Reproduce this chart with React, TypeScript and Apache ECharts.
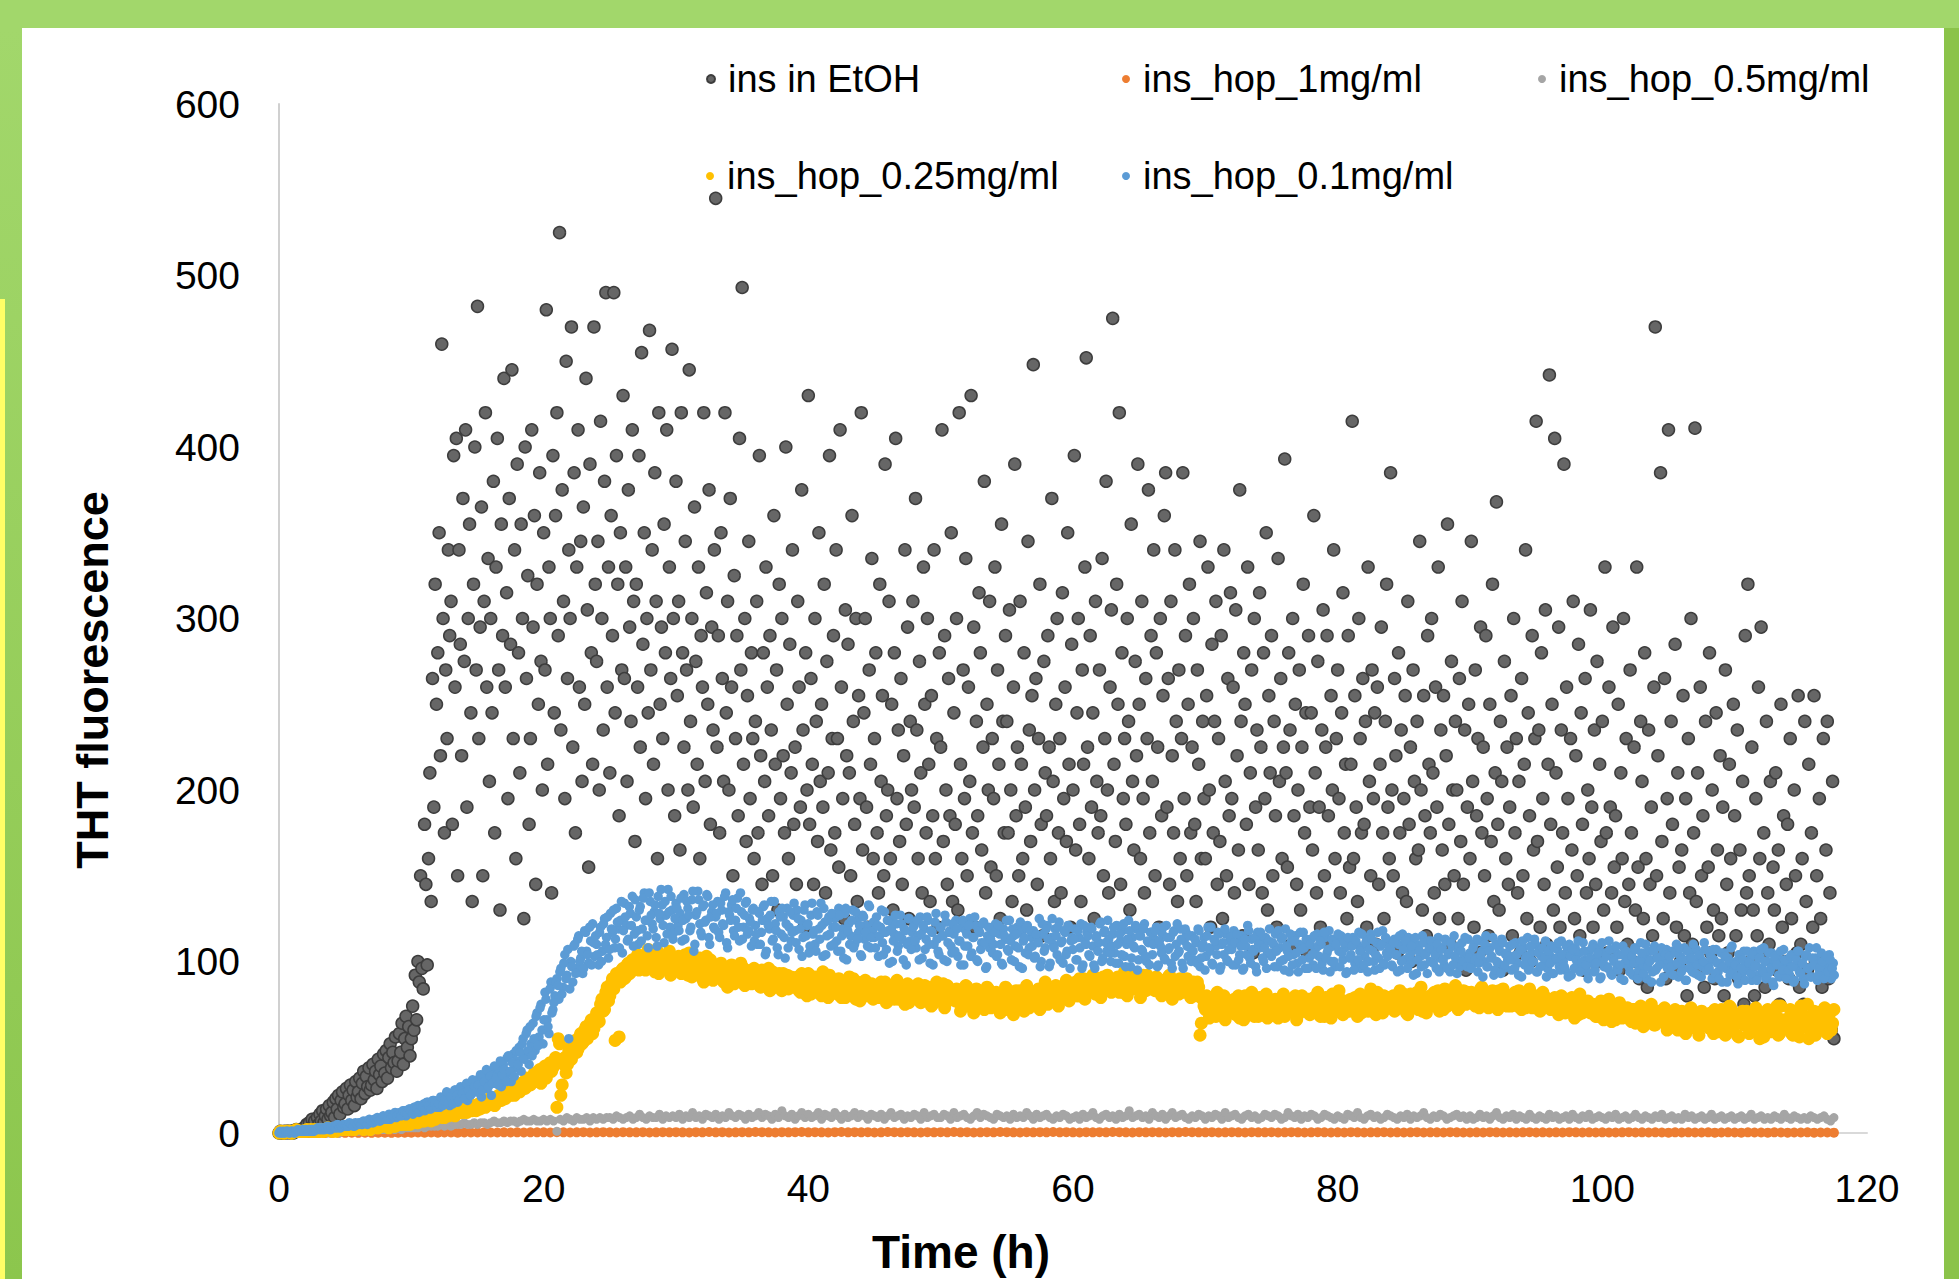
import React, { useEffect, useRef } from "react";
import * as echarts from "echarts";

// ---------- data (time grids in hours) ----------
const SERIES_NAMES = [
  "ins in EtOH",
  "ins_hop_1mg/ml",
  "ins_hop_0.5mg/ml",
  "ins_hop_0.25mg/ml",
  "ins_hop_0.1mg/ml",
];

const STEP_ETOH = 0.1;
const insEtOH = [
  0,1,0,0,1,0,1,1,0,1,
  1,0,1,2,1,1,2,1,2,3,
  2,5,1,6,3,8,4,7,2,9,
  5,11,7,13,6,10,14,8,16,10,
  12,18,9,20,14,22,11,19,24,15,
  17,26,14,22,28,19,25,16,30,21,
  24,32,20,29,36,23,33,27,38,25,
  28,40,31,36,26,43,34,39,30,46,
  35,48,32,44,52,38,47,41,56,36,
  42,58,47,64,40,55,68,50,62,45,
  55,74,60,92,66,100,88,150,96,84,
  180,145,98,160,210,135,265,190,320,250,
  280,350,220,460,300,175,270,230,340,290,
  310,180,395,260,405,150,340,285,220,370,
  275,410,190,300,355,245,135,320,400,270,
  482,230,295,365,150,310,420,260,335,205,
  300,245,380,175,330,405,270,130,355,290,
  440,260,315,195,370,285,445,230,340,160,
  390,280,210,355,300,125,400,265,325,180,
  230,410,295,360,145,320,250,385,275,200,
  350,270,480,215,330,300,140,395,245,360,
  420,290,525,235,375,310,195,450,265,340,
  300,470,225,385,175,330,410,260,345,205,
  365,250,440,305,155,390,280,215,470,320,
  275,345,200,415,300,235,380,490,260,330,
  210,360,290,490,245,395,320,185,350,270,
  430,265,330,205,375,295,240,410,310,170,
  320,260,395,225,455,285,350,195,300,245,
  468,270,340,215,385,310,160,420,250,295,
  230,355,280,410,200,330,265,457,300,185,
  380,255,310,165,420,280,225,345,270,200,
  445,240,300,190,365,275,215,330,160,290,
  260,420,205,315,250,375,180,295,235,340,
  545,225,290,175,350,265,205,420,245,310,
  200,370,260,150,325,230,290,185,405,270,
  493,215,300,170,255,345,195,280,230,160,
  240,310,175,395,220,145,280,205,330,260,
  185,290,235,150,360,215,270,130,320,195,
  300,220,175,400,250,160,285,210,340,180,
  225,145,310,260,190,375,235,120,280,200,
  430,180,265,215,145,300,240,170,350,205,
  250,190,320,140,275,210,395,165,230,290,
  175,340,230,155,410,260,195,125,305,220,
  285,210,150,360,240,180,300,135,255,195,
  420,165,245,300,190,120,270,215,335,160,
  230,280,175,140,320,205,255,150,390,185,
  200,310,160,250,130,280,405,195,235,170,
  265,145,220,340,180,295,125,240,200,310,
  190,370,235,160,275,210,140,330,250,175,
  300,215,135,255,185,340,160,230,120,280,
  225,410,170,290,200,145,265,185,350,135,
  245,180,300,130,420,215,160,270,195,335,
  150,260,205,430,175,295,120,240,185,315,
  280,165,225,380,140,250,200,310,155,230,
  195,330,150,270,215,125,355,240,175,290,
  240,175,305,200,135,260,390,185,225,150,
  310,215,160,280,190,130,345,235,170,255,
  448,200,265,145,230,320,180,115,275,210,
  185,290,225,160,370,205,135,250,300,175,
  230,140,315,195,260,170,350,215,120,285,
  200,395,165,245,300,180,135,270,215,330,
  452,225,160,290,190,245,125,310,205,175,
  270,185,335,150,230,380,200,140,260,305,
  475,215,170,320,250,420,145,280,195,230,
  180,300,240,130,355,205,165,275,220,390,
  250,160,310,195,140,265,230,375,175,290,
  205,340,150,280,225,120,300,185,255,360,
  385,190,265,145,310,220,175,340,240,135,
  270,160,230,385,195,290,150,250,320,175,
  225,300,180,135,270,215,345,160,240,195,
  160,255,330,200,120,285,175,240,310,145,
  230,170,290,125,340,205,150,265,185,315,
  195,260,140,305,220,165,375,240,115,280,
  250,180,330,145,210,270,105,300,190,235,
  165,315,225,140,280,195,350,130,255,210,
  290,150,240,185,120,335,205,265,160,225,
  393,210,155,280,235,110,300,185,250,145,
  200,270,130,225,320,175,245,105,290,190,
  245,165,360,210,140,275,190,120,235,305,
  150,225,290,185,110,255,200,340,160,230,
  270,195,140,245,315,175,215,125,290,155,
  215,415,160,255,190,135,300,230,175,265,
  180,240,120,330,205,150,270,195,245,110,
  260,145,215,295,175,125,240,320,190,160,
  385,200,150,265,220,105,280,175,235,140,
  195,255,135,310,180,225,100,270,205,160,
  240,165,345,200,130,255,185,115,290,215,
  175,300,210,140,260,190,330,125,235,165,
  255,145,220,355,180,110,275,200,150,240,
  200,125,265,170,310,145,235,95,190,250,
  160,345,205,120,270,185,230,105,295,175,
  225,150,290,195,115,250,170,320,135,210,
  368,180,130,240,205,95,275,160,225,145,
  190,255,115,300,175,230,140,205,105,265,
  150,215,340,125,245,185,100,290,165,230,
  415,170,235,120,280,195,145,305,110,215,
  442,180,250,130,405,210,155,295,120,235,
  175,390,140,260,195,105,230,165,310,125,
  220,150,285,115,245,180,95,265,140,200,
  160,305,190,120,235,145,275,100,215,170,
  240,130,330,175,105,260,190,140,295,155,
  185,120,250,95,210,160,300,135,230,110,
  145,270,175,100,225,130,330,155,90,240,
  205,125,280,160,85,235,145,190,115,260,
  470,150,220,105,385,170,125,265,90,195,
  410,140,240,180,95,285,120,210,155,100,
  165,255,115,195,80,230,140,300,110,175,
  411,135,210,95,260,150,185,85,240,120,
  155,280,105,200,130,90,245,165,115,220,
  125,190,80,270,145,105,215,160,95,250,
  185,115,235,90,165,130,205,75,290,140,
  320,150,100,225,130,80,195,115,260,160,
  295,105,175,85,240,140,110,205,70,155,
  130,210,95,165,75,250,120,185,100,145,
  180,90,230,125,70,200,150,105,255,85,
  110,160,75,240,135,95,215,65,175,120,
  255,100,150,70,195,125,85,230,60,165,
  240,90,140,60,205,55,
];

const STEP_1MG = 0.5;
const hop1mg = [
  0,0,0,0.1,0,0.1,0.1,0,0.1,0.1,0.1,0.2,0.1,0.2,0.1,0.2,0.2,0.1,0.2,0.2,
  0.2,0.3,0.2,0.3,0.2,0.3,0.3,0.2,0.3,0.3,0.3,0.4,0.3,0.3,0.4,0.3,0.4,0.3,0.4,0.4,
  0.4,0.3,0.5,0.4,0.3,0.4,0.5,0.3,0.4,0.5,0.4,0.3,0.5,0.4,0.4,0.5,0.3,0.4,0.5,0.4,
  0.5,0.4,0.3,0.5,0.4,0.6,0.4,0.5,0.3,0.4,0.5,0.4,0.6,0.5,0.4,0.3,0.5,0.4,0.5,0.6,
  0.4,0.5,0.4,0.3,0.5,0.6,0.4,0.5,0.4,0.5,0.3,0.4,0.6,0.5,0.4,0.5,0.4,0.3,0.5,0.4,
  0.5,0.4,0.6,0.4,0.5,0.3,0.4,0.5,0.4,0.6,0.5,0.4,0.3,0.5,0.4,0.5,0.4,0.6,0.4,0.5,
  0.4,0.3,0.5,0.4,0.5,0.4,0.6,0.5,0.4,0.3,0.5,0.4,0.5,0.4,0.3,0.5,0.4,0.6,0.5,0.4,
  0.4,0.5,0.3,0.4,0.5,0.4,0.3,0.5,0.4,0.4,0.5,0.3,0.4,0.5,0.4,0.3,0.4,0.5,0.4,0.3,
  0.4,0.3,0.5,0.4,0.3,0.4,0.4,0.5,0.3,0.4,0.3,0.4,0.5,0.3,0.4,0.4,0.3,0.5,0.4,0.3,
  0.3,0.4,0.3,0.5,0.4,0.3,0.4,0.3,0.4,0.5,0.3,0.4,0.3,0.4,0.3,0.5,0.4,0.3,0.4,0.3,
  0.4,0.3,0.3,0.4,0.5,0.3,0.4,0.3,0.4,0.3,0.2,0.4,0.3,0.4,0.3,0.3,0.4,0.2,0.3,0.4,
  0.3,0.2,0.4,0.3,0.3,0.2,0.4,0.3,0.2,0.3,0.3,0.4,0.2,0.3,0.3,0.2,
];

const STEP_05 = 0.25;
const hop05 = [
  0,0,0,0,0,0,0,0,0,1,0,0,1,0,1,0,1,1,0,1,
  1,1,1,1,1,2,1,2,1,2,2,2,2,2,3,2,3,2,3,3,
  3,3,3,4,3,4,4,4,4,5,4,5,4,5,5,5,6,5,5,6,
  5,6,6,5,6,7,6,6,7,6,7,7,6,7,8,7,7,8,7,7,
  8,7,8,7,1,8,7,9,8,7,9,8,8,9,7,9,8,9,8,9,
  9,8,10,9,8,9,10,8,9,11,9,8,10,9,9,11,8,10,9,10,
  9,11,8,10,9,12,9,10,8,11,10,9,11,8,10,9,12,10,9,11,
  10,8,11,9,10,12,9,11,10,8,11,9,13,10,9,11,8,10,12,9,
  11,9,10,12,8,11,10,9,12,10,8,11,9,10,12,9,11,10,8,11,
  10,9,11,8,10,12,9,10,11,8,10,9,11,10,8,12,9,10,11,9,
  9,11,10,8,12,9,10,11,9,8,10,12,9,11,10,9,8,11,10,9,
  10,8,11,9,10,9,12,10,8,11,9,10,11,9,8,10,9,11,10,8,
  9,10,8,11,9,10,12,9,8,10,11,9,10,8,11,9,10,13,9,10,
  11,9,10,8,12,10,9,11,8,10,12,9,10,11,9,8,10,9,11,10,
  8,10,9,11,10,8,12,9,10,11,9,8,10,11,9,10,8,9,11,10,
  9,11,10,8,9,12,10,9,11,8,10,9,11,10,8,9,11,10,9,8,
  10,9,8,11,10,9,12,9,8,10,11,9,10,8,9,11,10,9,8,10,
  9,11,8,10,9,10,12,9,8,10,9,11,10,8,9,10,11,9,10,8,
  10,8,9,11,9,10,8,10,12,9,8,10,9,11,8,10,9,8,11,9,
  8,10,9,8,11,9,10,8,9,10,8,11,9,8,10,9,11,8,9,10,
  9,8,10,9,11,8,9,10,8,9,11,9,8,10,9,8,10,9,11,8,
  9,10,8,9,8,11,9,10,8,9,10,8,9,11,8,9,10,8,9,10,
  8,9,10,8,9,11,8,9,10,8,9,8,10,9,8,11,9,8,10,9,
  8,9,8,10,9,8,9,10,8,7,9,
];

// 0.25 mg/ml: two interleaved reading grids (t = i*0.2 and t = 0.1 + i*0.2)
const STEP_025 = 0.2;
const hop025 = [
  0,1,0,1,1,0,1,1,1,1,1,1,2,1,1,
  1,2,1,2,2,1,2,2,2,3,2,2,3,2,3,
  3,3,2,3,4,3,4,3,4,4,5,4,4,5,4,
  5,5,6,5,6,6,7,6,7,8,7,8,8,9,8,
  9,10,9,11,10,11,12,11,13,12,14,12,15,13,14,
  16,14,17,15,19,17,20,18,22,19,24,21,23,26,22,
  27,24,29,26,31,28,33,30,35,29,38,32,40,36,42,
  15,52,28,44,40,50,46,54,49,58,53,62,57,66,61,
  70,65,78,72,85,80,90,54,92,88,96,91,99,94,97,
  100,95,103,97,105,99,102,94,106,98,101,96,104,92,100,
  97,103,93,100,95,105,91,99,96,102,90,98,94,101,89,
  96,92,99,88,95,93,98,87,94,91,97,86,93,90,95,
  89,94,85,91,88,96,84,90,87,93,83,89,92,86,90,
  85,91,82,88,86,93,81,87,84,90,80,88,85,92,83,
  87,81,89,84,79,86,83,90,78,85,82,88,80,84,87,
  82,86,79,84,88,77,83,81,87,78,85,80,84,76,82,
  85,79,83,77,86,80,82,75,84,78,81,87,76,83,79,
  80,84,76,82,78,85,74,81,79,83,75,80,77,84,73,
  79,82,75,80,77,84,74,81,78,76,83,79,75,82,77,
  81,76,84,78,80,86,77,83,79,85,78,82,87,80,84,
  83,88,80,85,90,82,87,84,91,81,86,89,83,92,85,
  88,84,91,86,82,89,93,85,87,90,83,88,86,92,84,
  87,83,90,85,88,82,91,84,86,89,81,87,85,90,83,
  86,82,88,57,78,72,76,70,79,68,75,73,80,69,77,
  71,78,74,67,76,80,70,75,73,79,68,76,72,81,74,
  77,70,75,73,79,68,74,77,71,80,69,76,74,72,78,
  73,79,70,76,74,68,77,72,81,71,75,78,69,76,73,
  78,72,76,80,70,75,73,79,71,77,82,74,70,76,79,
  75,80,72,77,74,81,70,78,76,73,82,75,71,79,77,
  80,74,78,83,76,72,79,81,75,77,84,73,78,76,82,
  77,81,74,79,84,76,80,73,82,78,75,83,77,80,74,
  79,76,82,74,80,77,73,81,78,75,79,72,77,80,74,
  76,73,79,71,77,75,70,78,74,72,76,69,75,73,71,
  74,70,72,68,75,71,67,73,69,72,66,70,74,68,71,
  69,65,72,67,70,64,71,68,66,69,63,70,67,65,68,
  66,70,63,68,65,71,62,67,64,69,61,66,68,63,67,
  64,70,58,67,62,72,60,66,74,61,69,57,65,71,63,
  68,59,65,73,61,69,56,64,71,60,67,74,58,66,62,
  63,72,57,66,60,74,62,68,55,65,71,59,67,61,73,
  58,70,64,
];
const OFFSET_025B = 0.1;
const hop025b = [
  1,0,1,1,0,1,2,1,1,1,2,1,1,2,1,
  2,1,2,3,2,2,1,3,2,3,2,3,3,2,3,
  4,3,3,4,2,4,5,3,4,5,4,3,5,4,5,
  6,5,7,6,5,7,8,6,8,7,9,8,7,9,9,
  10,11,9,12,11,13,10,12,14,12,15,13,14,16,13,
  17,15,18,16,20,18,16,21,19,23,20,25,22,24,27,
  25,29,27,32,28,30,35,31,37,33,39,35,41,38,44,
  55,22,40,35,48,43,51,47,56,52,60,55,64,58,67,
  68,75,71,82,77,87,84,93,56,95,90,98,93,101,96,
  104,98,101,95,107,100,97,104,93,99,103,97,106,95,101,
  95,101,97,104,92,98,102,94,100,96,88,103,93,99,97,
  93,98,90,96,85,94,97,89,92,99,88,95,91,87,96,
  92,86,95,88,90,83,94,87,91,85,93,88,84,91,87,
  88,83,93,86,80,89,85,91,82,87,94,84,79,89,86,
  84,90,79,86,82,91,80,85,88,77,83,89,81,86,78,
  85,79,88,81,76,86,83,78,89,80,84,75,87,82,79,
  81,87,76,83,79,85,74,82,88,77,80,73,86,78,83,
  77,83,71,80,86,74,79,70,84,76,81,72,85,75,80,
  74,81,70,78,85,72,76,69,83,75,79,71,86,73,78,
  76,83,72,80,88,75,82,78,86,74,84,79,89,77,85,
  86,80,90,83,78,88,85,92,81,87,79,91,84,89,82,
  85,90,82,87,94,80,88,84,91,86,79,92,83,89,86,
  84,91,86,80,89,83,92,78,87,85,90,82,88,84,79,
  88,80,85,64,74,80,67,77,72,82,70,78,66,75,71,
  76,69,80,72,66,78,74,82,68,75,79,71,77,67,73,
  72,78,67,75,81,70,76,73,79,66,74,80,71,77,69,
  76,71,82,68,74,79,72,67,78,75,83,70,73,77,71,
  74,79,68,81,73,76,71,84,75,69,78,72,80,74,77,
  79,71,76,83,73,78,69,81,74,80,72,85,77,70,76,
  75,82,77,71,79,84,74,80,76,86,72,78,83,75,79,
  82,76,79,73,85,78,81,75,83,77,72,80,84,76,78,
  74,81,77,83,72,79,76,84,73,78,80,71,82,75,77,
  72,78,74,69,80,73,76,71,79,67,75,81,70,74,77,
  70,75,68,73,77,66,72,78,65,74,69,76,67,71,73,
  66,72,64,69,74,62,70,67,75,63,68,71,65,73,60,
  69,64,72,60,67,70,58,66,73,62,68,57,71,65,63,
  61,68,72,59,65,70,57,64,73,62,67,56,69,63,71,
  58,66,70,62,55,68,64,72,59,63,69,57,74,61,66,
  67,58,64,71,56,69,62,75,60,65,57,70,63,68,59,
  66,60,72,
];

// 0.1 mg/ml: two interleaved reading grids (t = i*0.15 and t = 0.075 + i*0.15)
const STEP_01 = 0.15;
const hop01 = [
  0,0,1,0,1,0,1,1,0,1,1,1,2,1,1,2,1,2,2,2,
  2,2,3,2,3,3,2,3,4,3,4,3,4,4,5,4,5,5,4,5,
  5,6,5,6,7,6,7,6,8,7,8,7,9,8,9,10,8,10,11,9,
  10,12,11,13,10,12,14,12,15,13,16,14,13,17,15,18,14,17,19,16,
  18,15,20,17,22,19,16,23,20,25,18,22,26,21,24,19,28,23,26,30,
  24,32,21,28,35,26,31,22,36,29,38,33,27,40,31,44,35,30,46,38,
  42,50,36,55,45,60,40,52,64,48,70,56,75,52,82,66,58,88,72,80,
  90,78,96,85,104,92,55,100,88,110,96,115,102,93,118,106,99,112,122,103,
  110,98,120,106,125,114,102,128,117,108,131,119,124,105,134,121,113,128,138,116,
  126,110,132,119,140,124,108,135,122,129,114,138,125,133,111,127,142,120,130,117,
  134,121,128,112,139,125,131,118,136,106,127,141,122,115,133,124,138,110,129,120,
  126,135,114,130,121,140,108,127,133,118,124,137,112,129,120,134,116,125,109,131,
  121,110,128,117,132,104,125,119,135,113,122,108,129,116,126,102,131,120,112,127,
  118,130,107,124,114,133,121,105,127,116,110,129,119,134,103,123,115,126,109,120,
  125,112,131,106,119,128,101,122,115,130,110,124,117,104,127,113,121,133,108,118,
  114,126,103,120,111,129,107,118,124,100,116,122,109,127,113,119,98,125,112,117,
  121,108,115,126,102,119,113,124,99,117,110,128,106,120,115,101,123,111,118,105,
  116,124,103,112,120,98,118,109,125,105,114,121,100,117,111,123,96,115,108,119,
  110,122,104,116,99,119,113,107,124,101,115,109,120,97,117,112,105,121,108,114,
  118,103,113,125,100,116,108,121,97,114,110,119,104,123,111,99,117,106,120,112,
  107,119,101,114,122,98,112,117,104,120,109,96,115,111,123,102,118,106,113,100,
  116,105,121,99,112,118,103,110,124,97,114,108,119,101,115,106,122,100,111,117,
  104,113,120,98,109,116,102,121,107,114,96,118,110,105,119,99,112,117,103,108,
  115,101,111,119,97,108,114,103,120,106,99,113,109,117,95,110,104,116,100,112,
  107,118,98,111,104,115,96,109,121,102,113,106,97,117,108,112,100,114,105,119,
  103,110,116,97,108,113,101,119,106,94,112,104,115,99,110,107,117,96,111,102,
  113,98,107,116,103,110,95,114,105,118,100,109,97,112,106,115,101,108,94,111,
  104,114,99,110,117,96,108,103,113,100,116,106,95,111,102,109,118,98,105,112,
  107,97,113,104,110,95,116,101,108,114,99,106,111,93,109,103,115,98,105,112,
  100,110,106,96,114,102,108,98,112,104,94,109,115,101,107,97,111,103,99,113,
  105,98,110,102,94,112,106,100,115,97,108,103,92,110,99,106,113,96,104,101,
  109,95,103,111,99,106,91,108,102,114,97,105,100,110,94,107,103,98,112,96,
  104,109,93,101,107,97,112,100,95,106,110,92,103,108,98,105,96,111,101,94,
  106,99,110,95,103,108,91,100,105,97,112,93,102,107,96,104,90,109,99,101,
  97,105,92,108,100,95,111,98,103,90,106,101,94,109,96,102,88,104,99,107,
  100,93,106,98,110,91,103,96,108,89,101,105,94,99,107,92,102,97,111,95,
  98,104,90,101,107,94,99,88,105,96,102,92,109,97,100,87,104,93,106,99,
  95,101,89,106,98,92,103,96,108,90,100,94,105,86,99,102,91,97,107,93,
  100,92,104,88,97,106,94,99,90,103,96,108,91,98,102,89,95,105,93,101,
  97,104,90,99,
];
const OFFSET_01B = 0.075;
const hop01b = [
  1,0,0,1,1,0,1,0,1,2,1,1,1,2,1,2,2,1,2,3,
  3,2,2,3,4,2,3,4,3,5,3,4,5,4,4,6,5,4,6,5,
  6,5,7,6,5,8,7,6,8,9,7,8,10,9,8,11,9,10,12,10,
  11,10,13,12,11,14,13,11,15,14,12,16,15,13,18,16,14,19,17,15,
  17,21,16,19,24,18,21,17,25,22,19,27,23,20,29,25,22,31,27,24,
  28,34,25,30,37,27,33,29,39,32,28,42,34,37,30,45,36,41,33,48,
  40,47,52,43,58,48,62,45,55,68,51,73,60,66,78,62,84,70,76,88,
  86,94,81,99,90,107,84,97,109,93,113,100,106,96,117,104,120,98,111,115,
  104,117,100,122,110,126,107,119,130,113,123,108,135,118,126,112,132,121,109,136,
  118,130,112,137,124,115,140,127,119,133,109,128,142,121,135,116,129,138,113,125,
  131,118,137,124,113,135,127,120,141,110,129,136,117,132,123,139,114,126,133,119,
  128,117,134,122,138,111,129,124,136,115,131,120,140,113,127,135,118,123,130,112,
  116,129,110,124,133,106,121,127,112,135,118,104,126,131,114,122,108,129,117,134,
  111,125,119,103,130,115,122,109,134,118,106,127,113,121,131,104,124,116,128,110,
  120,106,127,115,102,131,118,110,124,108,129,113,121,103,126,117,109,132,114,123,
  108,121,115,130,104,117,124,99,119,112,127,106,115,122,101,118,110,125,107,120,
  112,124,101,116,121,107,126,110,118,98,123,113,104,120,115,127,100,117,109,122,
  106,119,112,98,124,109,116,121,103,114,126,101,118,107,122,111,97,120,113,105,
  117,103,121,110,98,115,124,106,112,119,100,116,108,123,96,114,120,104,118,109,
  102,116,111,97,122,106,119,113,99,125,108,115,120,101,112,118,104,121,96,114,
  113,101,118,108,96,121,110,115,103,119,98,114,106,122,100,117,111,124,105,109,
  120,99,110,116,104,122,97,113,118,102,109,121,95,115,107,119,103,112,98,117,
  110,118,97,112,105,120,101,114,108,99,117,103,122,106,113,96,119,109,115,100,
  106,113,99,118,102,110,95,115,108,120,98,112,104,116,97,111,119,101,107,114,
  98,111,116,101,109,95,113,104,118,99,107,114,94,110,117,102,108,96,112,105,
  111,97,106,118,100,114,95,109,103,116,98,112,105,94,117,101,108,113,96,110,
  104,115,96,109,112,99,117,102,107,94,113,100,110,116,97,105,111,93,114,102,
  109,95,112,101,106,116,98,111,94,107,113,100,104,117,96,110,99,114,103,108,
  98,111,104,94,115,100,107,112,96,103,109,92,114,101,106,97,111,104,93,108,
  112,99,104,110,94,107,101,113,96,105,111,98,103,93,109,106,100,114,97,102,
  96,108,101,113,99,104,91,110,97,106,102,114,95,100,108,93,111,98,105,103,
  101,110,96,104,92,107,112,98,103,95,109,100,113,94,105,97,108,102,91,106,
  99,93,108,102,111,95,104,97,109,91,103,107,96,101,112,94,100,106,98,90,
  102,108,94,99,105,90,111,97,103,96,107,92,100,109,95,98,104,89,106,101,
  94,103,99,107,90,101,105,93,110,97,100,88,106,95,102,98,108,91,104,96,
  103,97,92,105,99,108,94,101,89,106,96,102,110,93,98,104,91,100,107,95,
  96,102,107,93,99,90,105,97,103,88,100,108,94,98,91,104,96,101,89,106,
  99,93,104,97,89,102,107,94,100,91,105,96,88,103,98,92,106,95,101,90,
  95,103,97,89,101,106,93,99,87,104,96,91,102,98,108,92,97,100,90,103,
  94,101,96,92,
];

// ---------- axes ----------
const X_MIN = 0, X_MAX = 120, X_INTERVAL = 20;
const Y_MIN = 0, Y_MAX = 600, Y_INTERVAL = 100;
const X_TITLE = "Time (h)";
const Y_TITLE = "THT fluorescence";

const FONT = "'Liberation Sans', Arial, sans-serif";

function toPairs(values: number[], step: number, offset = 0) {
  return values.map((v, i) => [Math.round((offset + i * step) * 1000) / 1000, v]);
}

export default function App() {
  const ref = useRef<HTMLDivElement>(null);

  useEffect(() => {
    if (!ref.current) return;
    const chart = echarts.init(ref.current, undefined, { renderer: "svg" });

    const colors = ["#666666", "#ED7D31", "#A5A5A5", "#FFC000", "#5B9BD5"];
    const sizes = [12, 10, 9, 13, 9.5];
    const datasets = [
      toPairs(insEtOH, STEP_ETOH),
      toPairs(hop1mg, STEP_1MG),
      toPairs(hop05, STEP_05),
      toPairs(hop025, STEP_025).concat(toPairs(hop025b, STEP_025, OFFSET_025B)),
      toPairs(hop01, STEP_01).concat(toPairs(hop01b, STEP_01, OFFSET_01B)),
    ];

    const legendPos = [
      { left: 701, top: 55 },
      { left: 1117, top: 55 },
      { left: 1533, top: 55 },
      { left: 701, top: 152 },
      { left: 1117, top: 152 },
    ];

    const option: any = {
      animation: false,
      backgroundColor: "#ffffff",
      grid: { left: 279, right: 92, top: 104, bottom: 146, containLabel: false },
      legend: SERIES_NAMES.map((n, i) => ({
        data: [n],
        left: legendPos[i].left,
        top: legendPos[i].top,
        icon: "circle",
        itemWidth: 8,
        itemHeight: 8,
        selectedMode: false,
        textStyle: {
          fontFamily: FONT,
          fontSize: 38,
          color: "#000",
          padding: [0, 0, 0, 8],
        },
      })),
      xAxis: {
        type: "value",
        min: X_MIN,
        max: X_MAX,
        interval: X_INTERVAL,
        axisLine: { show: true, onZero: false, lineStyle: { color: "#d9d9d9", width: 2 } },
        axisTick: { show: false },
        splitLine: { show: false },
        axisLabel: { fontFamily: FONT, fontSize: 39, color: "#000", margin: 36 },
      },
      yAxis: {
        type: "value",
        min: Y_MIN,
        max: Y_MAX,
        interval: Y_INTERVAL,
        axisLine: { show: true, lineStyle: { color: "#d0d0d0", width: 2 } },
        axisTick: { show: false },
        splitLine: { show: false },
        axisLabel: { fontFamily: FONT, fontSize: 39, color: "#000", margin: 39 },
      },
      series: SERIES_NAMES.map((n, i) => ({
        name: n,
        type: "scatter",
        data: datasets[i],
        symbol: "circle",
        symbolSize: sizes[i],
        clip: false,
        itemStyle:
          i === 0
            ? { color: colors[i], borderColor: "#3d3d3d", borderWidth: 1.5, opacity: 1 }
            : { color: colors[i], opacity: 1 },
        emphasis: { disabled: true },
      })),
      graphic: [
        { type: "rect", shape: { x: 0, y: 0, width: 1959, height: 28 }, style: { fill: "#a2d76b" }, silent: true },
        {
          type: "rect",
          shape: { x: 0, y: 28, width: 22, height: 1251 },
          style: {
            fill: new echarts.graphic.LinearGradient(0, 0, 0, 1, [
              { offset: 0, color: "#a2d76b" },
              { offset: 1, color: "#8cc64d" },
            ]),
          },
          silent: true,
        },
        { type: "rect", shape: { x: 0, y: 299, width: 5, height: 980 }, style: { fill: "#ffff66" }, silent: true },
        { type: "rect", shape: { x: 1944, y: 28, width: 15, height: 1251 }, style: { fill: "#8bc34a" }, silent: true },
        {
          type: "text",
          x: 92,
          y: 680,
          rotation: Math.PI / 2,
          style: {
            text: Y_TITLE,
            font: `bold 45px ${FONT}`,
            fill: "#000",
            textAlign: "center",
            textVerticalAlign: "middle",
          },
        },
        {
          type: "text",
          x: 961,
          y: 1252,
          style: {
            text: X_TITLE,
            font: `bold 46px ${FONT}`,
            fill: "#000",
            textAlign: "center",
            textVerticalAlign: "middle",
          },
        },
      ],
    };

    chart.setOption(option);
    return () => chart.dispose();
  }, []);

  return (
    <div
      ref={ref}
      style={{ position: "absolute", left: 0, top: 0, width: 1959, height: 1279 }}
    />
  );
}
